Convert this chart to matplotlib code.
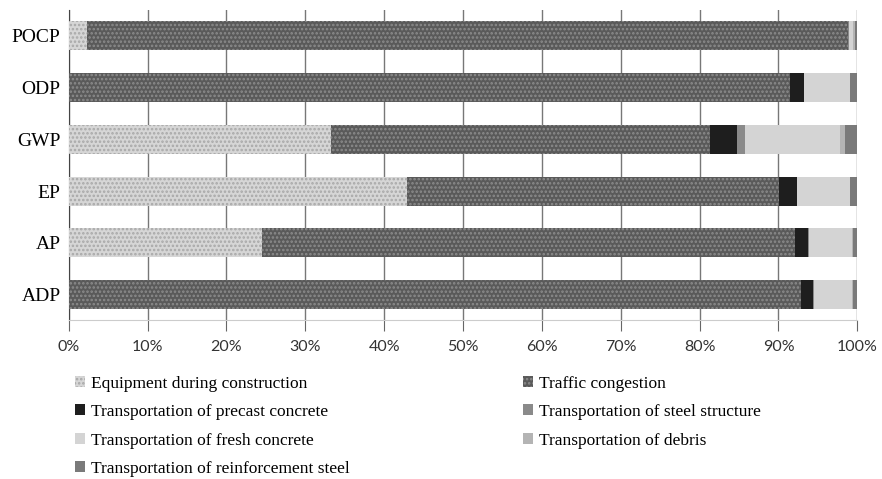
import numpy as np
import matplotlib.pyplot as plt

plt.rcParams['hatch.linewidth'] = 1.2

# impact categories, bottom to top
cats = ['ADP', 'AP', 'EP', 'GWP', 'ODP', 'POCP']

# shares in % per source (same order as cats)
equipment = [0.0, 24.5, 42.9, 33.3, 0.0, 2.3]
traffic = [92.8, 67.6, 47.2, 48.0, 91.5, 96.5]
precast = [1.6, 1.7, 2.2, 3.4, 1.7, 0.05]
steel_struct = [0.05, 0.05, 0.05, 1.1, 0.05, 0.05]
fresh = [4.9, 5.5, 6.7, 12.0, 5.8, 0.6]
debris = [0.05, 0.05, 0.05, 0.7, 0.05, 0.2]
reinforcement = [0.6, 0.6, 0.9, 1.5, 1.0, 0.3]

names = ['Equipment during construction', 'Traffic congestion',
         'Transportation of precast concrete', 'Transportation of steel structure',
         'Transportation of fresh concrete', 'Transportation of debris',
         'Transportation of reinforcement steel']
series = [equipment, traffic, precast, steel_struct, fresh, debris, reinforcement]
colors = ['#d6d6d6', '#5a5a5a', '#1e1e1e', '#8a8a8a', '#d4d4d4', '#b4b4b4', '#7a7a7a']
hatch_cols = ['#a8a8a8', '#8c8c8c', '#1e1e1e', '#8a8a8a', '#d4d4d4', '#b4b4b4', '#7a7a7a']
hatches = ['....', '....', None, None, None, None, None]

fig = plt.figure(figsize=(8.82, 4.79), dpi=100)
ax = fig.add_axes([0.078, 0.331, 0.894, 0.648])

y = np.arange(len(cats))
left = np.zeros(len(cats))
handles = []
for vals, name, c, hc, h in zip(series, names, colors, hatch_cols, hatches):
    vals = np.array(vals)
    b = ax.barh(y, vals, left=left, height=0.56, color=c, edgecolor=hc,
                linewidth=0, hatch=h, label=name, zorder=3)
    handles.append(b)
    left = left + vals

ax.set_xlim(0, 100)
ax.set_ylim(-0.5, len(cats) - 0.5)
ax.set_yticks(y)
ax.set_yticklabels(cats, fontfamily='Liberation Serif', fontsize=14)
ax.set_xticks(np.arange(0, 101, 10))
ax.set_xticklabels(['%d%%' % v for v in range(0, 101, 10)], fontfamily='Lato',
                   fontsize=11.5, color='#333333')
ax.tick_params(axis='y', length=0, pad=6)
ax.tick_params(axis='x', length=8, color='#666666', pad=6)
ax.grid(axis='x', color='#777777', linewidth=1, zorder=0)
for s in ['top', 'right']:
    ax.spines[s].set_visible(False)
ax.spines['left'].set_color('#444444')
ax.spines['bottom'].set_color('#cccccc')

order = [0, 2, 4, 6, 1, 3, 5]
leg = fig.legend([handles[i] for i in order], [names[i] for i in order],
                 ncol=2, loc='upper left', bbox_to_anchor=(0.085, 0.216),
                 frameon=False, prop={'family': 'Liberation Serif', 'size': 12.5},
                 handlelength=0.6, handleheight=0.6, handletextpad=0.3,
                 columnspacing=10.0, labelspacing=0.72, borderpad=0, borderaxespad=0)

fig.savefig('out.png', dpi=100)
